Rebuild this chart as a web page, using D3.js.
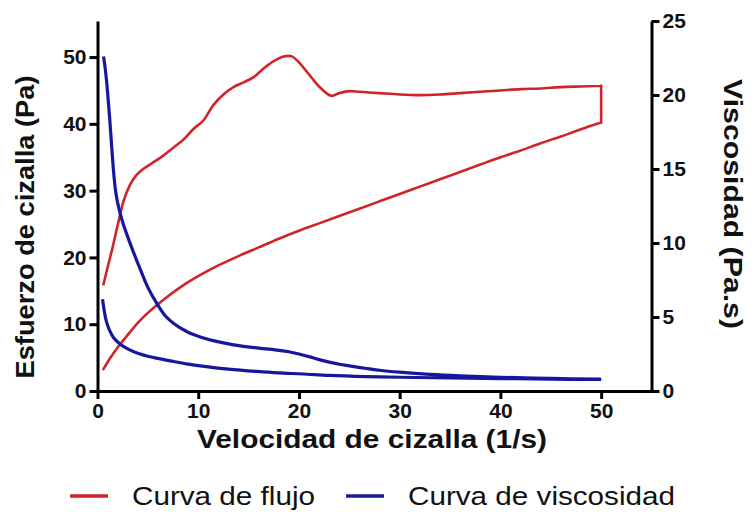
<!DOCTYPE html>
<html><head><meta charset="utf-8">
<script src="https://cdn.jsdelivr.net/npm/d3@7"></script>
<style>body{margin:0;background:#fff}svg{display:block}</style>
</head><body>
<svg id="c" width="754" height="524"></svg>
<script>
// Flow curve loop (shear rate 1/s, shear stress Pa) – up ramp, drop at 50, down ramp
const flowShear = [0.6,1.0,1.5,2.0,2.6,3.2,3.8,4.5,5.5,6.5,7.5,8.5,9.5,10.5,11.5,12.5,13.5,14.5,15.5,16.5,17.5,18.5,19.3,20,21,22,23.2,24,25,26,27,28,30,32,34,36,38,40,42,44,46,48,50,
  50,48,46,44,42,40,38,36,34,32,30,28,26,24,22,20,18,16,14,12,10,9,8,7,6,5,4,3,2,1.2,0.6];
const flowStress = [16,18.5,21.5,24.8,28.5,30.8,32.2,33.2,34.2,35.2,36.4,37.6,39.2,40.5,42.8,44.4,45.5,46.2,47,48.3,49.4,50.1,50.1,49.2,47.4,45.6,44.2,44.6,44.9,44.8,44.7,44.6,44.4,44.3,44.4,44.6,44.8,45,45.2,45.3,45.5,45.6,45.7,
  40.2,39.2,38.1,37.1,36.0,35.0,33.9,32.8,31.7,30.6,29.5,28.4,27.3,26.2,25.1,24.0,22.8,21.5,20.2,18.8,17.2,16.3,15.3,14.2,13.0,11.7,10.2,8.4,6.5,4.8,3.3];
// Viscosity loop (shear rate 1/s, viscosity Pa.s)
const viscShear = [0.6,0.8,1.0,1.2,1.4,1.6,1.8,2.1,2.5,2.9,3.5,4.2,5.0,5.9,6.7,7.5,8.9,10.2,11.8,13.5,16,18,19,20,21,22,23,24,25,26.7,28,30,33,36,40,45,50,
  50,45,40,35,30,26.7,23,20.4,18,15.8,13,10.8,9,7.5,6,5,4,3,2.2,1.6,1.2,0.9,0.7,0.5];
const viscValues = [22.6,21.6,20.2,18.5,16.6,14.8,13.5,12.4,11.4,10.6,9.5,8.3,7.0,5.9,5.1,4.6,4.0,3.65,3.35,3.12,2.9,2.75,2.65,2.5,2.32,2.12,1.95,1.81,1.7,1.52,1.4,1.27,1.12,1.02,0.93,0.85,0.8,
  0.78,0.8,0.84,0.88,0.93,0.97,1.05,1.15,1.22,1.32,1.48,1.65,1.82,2.0,2.2,2.35,2.55,2.85,3.2,3.6,4.1,4.65,5.3,6.2];

const xTicks = [0,10,20,30,40,50];
const yLeftTicks = [0,10,20,30,40,50];
const yRightTicks = [0,5,10,15,20,25];
const seriesNames = ["Curva de flujo","Curva de viscosidad"];
const seriesColors = ["#d0232a","#17179e"];

const svg = d3.select("#c");
const x = d3.scaleLinear().domain([0,55]).range([97.5,651.5]);
const yL = d3.scaleLinear().domain([0,55.4]).range([391,21]);
const yR = d3.scaleLinear().domain([0,25]).range([391,21]);

const font = "'Liberation Sans', Arial, sans-serif";

// split a loop into smooth pieces at vertical jumps (equal consecutive x)
function pieces(pts){
  const out = []; let cur = [pts[0]];
  for (let i=1;i<pts.length;i++){
    if (pts[i][0] === pts[i-1][0]) { out.push(cur); out.push([pts[i-1],pts[i]]); cur = [pts[i]]; }
    else cur.push(pts[i]);
  }
  out.push(cur); return out;
}
const flowPts = flowShear.map((s,i)=>[s,flowStress[i]]);
const viscPts = viscShear.map((s,i)=>[s,viscValues[i]]);
const lineL = d3.line().curve(d3.curveCatmullRom.alpha(0.5)).x(d=>x(d[0])).y(d=>yL(d[1]));
const lineR = d3.line().curve(d3.curveCatmullRom.alpha(0.5)).x(d=>x(d[0])).y(d=>yR(d[1]));
svg.append("path").attr("d", pieces(flowPts).map(p=>lineL(p)).join(""))
  .attr("fill","none").attr("stroke",seriesColors[0]).attr("stroke-width",2.6)
  .attr("stroke-linejoin","miter").attr("stroke-linecap","square");
svg.append("path").attr("d", pieces(viscPts).map(p=>lineR(p)).join(""))
  .attr("fill","none").attr("stroke",seriesColors[1]).attr("stroke-width",3.2).attr("stroke-linejoin","round");

// axes
function styleAxis(g){
  g.selectAll("path.domain").attr("stroke","#000").attr("stroke-width",3);
  g.selectAll(".tick line").attr("stroke","#000").attr("stroke-width",3);
  g.selectAll(".tick text").attr("font-family",font).attr("font-weight","bold").attr("font-size",21).attr("fill","#111");
}
const gx = svg.append("g").attr("transform","translate(0,391)")
  .call(d3.axisBottom(x).tickValues(xTicks).tickSize(8).tickSizeOuter(0).tickPadding(4));
styleAxis(gx);
const gl = svg.append("g").attr("transform","translate(97.5,0)")
  .call(d3.axisLeft(yL).tickValues(yLeftTicks).tickSize(8).tickSizeOuter(0).tickPadding(3));
styleAxis(gl);
const gr = svg.append("g").attr("transform","translate(651.5,0)")
  .call(d3.axisRight(yR).tickValues(yRightTicks).tickSize(8).tickSizeOuter(0).tickPadding(3));
styleAxis(gr);

// titles
svg.append("text").attr("x",372).attr("y",448).attr("text-anchor","middle")
  .attr("font-family",font).attr("font-weight","bold").attr("font-size",25).attr("fill","#111")
  .attr("textLength",350).attr("lengthAdjust","spacingAndGlyphs")
  .text("Velocidad de cizalla (1/s)");
svg.append("text").attr("transform","translate(34,227) rotate(-90)").attr("text-anchor","middle")
  .attr("font-family",font).attr("font-weight","bold").attr("font-size",26).attr("fill","#111")
  .attr("textLength",303).attr("lengthAdjust","spacingAndGlyphs")
  .text("Esfuerzo de cizalla (Pa)");
svg.append("text").attr("transform","translate(724,204) rotate(90)").attr("text-anchor","middle")
  .attr("font-family",font).attr("font-weight","bold").attr("font-size",26).attr("fill","#111")
  .attr("textLength",250).attr("lengthAdjust","spacingAndGlyphs")
  .text("Viscosidad (Pa.s)");

// legend
const legX = [70, 346];
const legW = [183, 267];
seriesNames.forEach((n,i)=>{
  svg.append("line").attr("x1",legX[i]).attr("x2",legX[i]+38).attr("y1",496).attr("y2",496)
    .attr("stroke",seriesColors[i]).attr("stroke-width",3.5);
  svg.append("text").attr("x",legX[i]+62).attr("y",505).attr("font-family",font)
    .attr("font-size",26).attr("fill","#111")
    .attr("textLength",legW[i]).attr("lengthAdjust","spacingAndGlyphs").text(n);
});
</script>
</body></html>
